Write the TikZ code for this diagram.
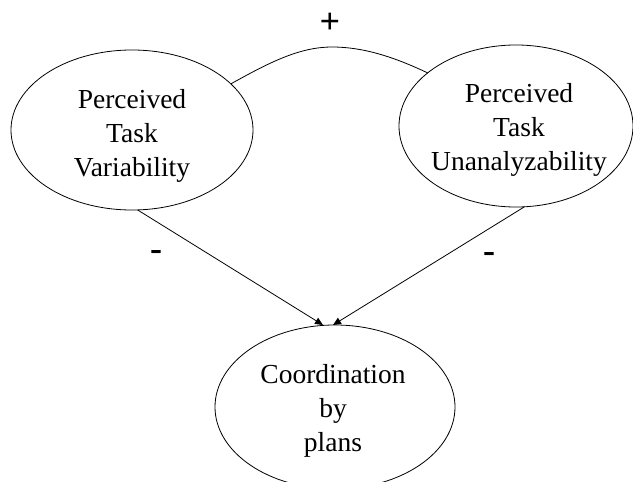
\documentclass[tikz,border=0pt]{standalone}
\usepackage{fontspec}
\setmainfont{Liberation Serif}
\usetikzlibrary{arrows.meta,shapes.geometric}
\begin{document}
\begin{tikzpicture}[x=1pt,y=-1pt,
  concept/.style={draw, ellipse, line width=0.8pt, inner sep=0pt, outer sep=0pt},
  label text/.style={align=center, inner sep=0pt, font=\fontsize{27.5}{34}\selectfont},
  link/.style={line width=0.8pt},
  tip/.style={-{Triangle[length=8pt,width=7pt]}},
  sign/.style={font=\fontsize{36}{36}\selectfont\bfseries}]
\useasboundingbox (0,0) rectangle (633,482);
\clip (0,0) rectangle (633,482);
\node[concept, minimum width=242pt, minimum height=160pt] (tv) at (132,130) {};
\node[concept, minimum width=234pt, minimum height=162pt] (tu) at (516,126) {};
\node[concept, minimum width=240pt, minimum height=164pt] (cp) at (335,407) {};
\node[label text] (tvt) at (132,136) {Perceived\\Task\\Variability};
\node[label text] (tut) at (519,130) {Perceived\\Task\\Unanalyzability};
\node[label text] (cpt) at (333,411) {Coordination\\by\\plans};
\coordinate (peak) at (332,47);
\draw[link] (tv.25) .. controls (270,62) and (300,47) .. (peak) .. controls (362,47) and (392,56) .. (tu.149);
\node[sign] (plus) at (330,23) {+};
\coordinate (tipl) at (323,325);
\coordinate (tipr) at (333,325);
\draw[link,tip] (tv.-86) -- (tipl);
\draw[link,tip] (tu.-84) -- (tipr);
\node[sign] (ml) at (156,255) {-};
\node[sign] (mr) at (489,257) {-};
\end{tikzpicture}
\end{document}
